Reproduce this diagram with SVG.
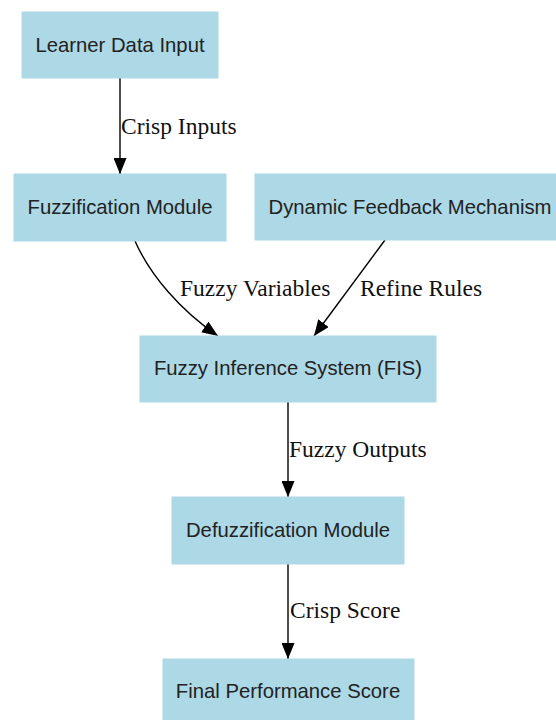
<svg xmlns="http://www.w3.org/2000/svg" width="556" height="720" viewBox="0 0 556 720">
<style>
.node rect{fill:#add8e6;stroke:#add8e6;stroke-width:1}
.node text{font-family:"Liberation Sans",Arial,sans-serif;font-size:20.3px;fill:#222;text-anchor:middle}
.edge path{fill:none;stroke:#000;stroke-width:1.4}
.lbl{font-family:"Liberation Serif","Times New Roman",serif;font-size:23.5px;fill:#111}
</style>
<defs>
<marker id="ah" markerUnits="userSpaceOnUse" markerWidth="16" markerHeight="13" refX="16" refY="6.5" orient="auto">
<path d="M0,0 L16,6.5 L0,13 Z" fill="#000"/>
</marker>
</defs>
<rect width="556" height="720" fill="#fff"/>
<g id="connectors" class="edge">
<path d="M120,78 L120,174" marker-end="url(#ah)"/>
<text class="lbl" x="121" y="134">Crisp Inputs</text>
<path d="M135,241 C150,275 180,310 218,336" marker-end="url(#ah)"/>
<text class="lbl" x="180" y="296">Fuzzy Variables</text>
<path d="M385,240 L314,336" marker-end="url(#ah)"/>
<text class="lbl" x="360" y="296">Refine Rules</text>
<path d="M288,402 L288,497" marker-end="url(#ah)"/>
<text class="lbl" x="289" y="457">Fuzzy Outputs</text>
<path d="M288,564 L288,659" marker-end="url(#ah)"/>
<text class="lbl" x="290" y="618">Crisp Score</text>
</g>
<g id="learner" class="node"><rect x="22" y="12" width="196" height="66"/><text x="120" y="52">Learner Data Input</text></g>
<g id="fuzzification" class="node"><rect x="14" y="174" width="212" height="67"/><text x="120" y="214">Fuzzification Module</text></g>
<g id="feedback" class="node"><rect x="255" y="174" width="305" height="66"/><text x="410" y="214">Dynamic Feedback Mechanism</text></g>
<g id="fis" class="node"><rect x="140" y="336" width="296" height="66"/><text x="288" y="375">Fuzzy Inference System (FIS)</text></g>
<g id="defuzz" class="node"><rect x="172" y="497" width="232" height="67"/><text x="288" y="537">Defuzzification Module</text></g>
<g id="final" class="node"><rect x="163" y="659" width="251" height="66"/><text x="288" y="698">Final Performance Score</text></g>
</svg>
